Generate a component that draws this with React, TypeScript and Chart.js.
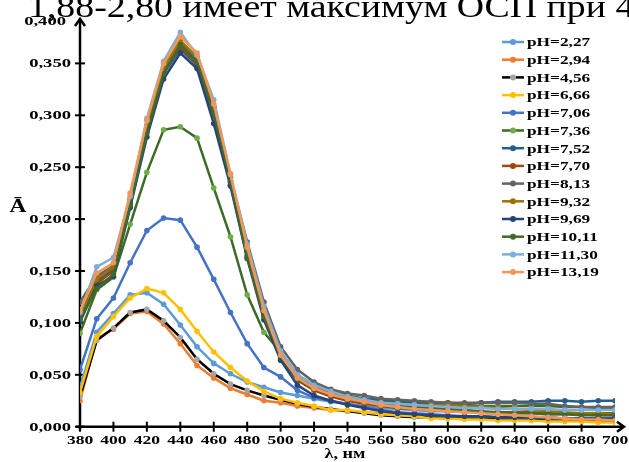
import React, { useEffect, useRef } from "react";
import { Chart, registerables } from "chart.js";

Chart.register(...registerables);

const wavelengths = [380, 390, 400, 410, 420, 430, 440, 450, 460, 470, 480, 490, 500, 510, 520, 530, 540, 550, 560, 570, 580, 590, 600, 610, 620, 630, 640, 650, 660, 670, 680, 690, 700];

const seriesLabels = ["pH=2,27", "pH=2,94", "pH=4,56", "pH=6,66", "pH=7,06", "pH=7,36", "pH=7,52", "pH=7,70", "pH=8,13", "pH=9,32", "pH=9,69", "pH=10,11", "pH=11,30", "pH=13,19"];

const pH227 = [0.038, 0.091, 0.109, 0.127, 0.129, 0.118, 0.098, 0.077, 0.061, 0.051, 0.043, 0.038, 0.033, 0.030, 0.027, 0.024, 0.022, 0.020, 0.018, 0.017, 0.016, 0.015, 0.015, 0.014, 0.014, 0.013, 0.013, 0.013, 0.012, 0.012, 0.012, 0.011, 0.011];
const pH294 = [0.025, 0.085, 0.094, 0.109, 0.111, 0.099, 0.080, 0.059, 0.047, 0.037, 0.031, 0.025, 0.023, 0.020, 0.018, 0.016, 0.015, 0.014, 0.013, 0.012, 0.011, 0.010, 0.010, 0.009, 0.009, 0.008, 0.008, 0.008, 0.007, 0.007, 0.007, 0.006, 0.006];
const pH456 = [0.029, 0.083, 0.095, 0.110, 0.113, 0.102, 0.086, 0.065, 0.051, 0.041, 0.035, 0.030, 0.026, 0.022, 0.019, 0.017, 0.015, 0.013, 0.011, 0.010, 0.009, 0.009, 0.008, 0.008, 0.008, 0.007, 0.007, 0.007, 0.007, 0.007, 0.006, 0.006, 0.006];
const pH666 = [0.033, 0.087, 0.106, 0.124, 0.133, 0.129, 0.113, 0.092, 0.072, 0.057, 0.044, 0.034, 0.027, 0.023, 0.020, 0.016, 0.016, 0.014, 0.012, 0.011, 0.010, 0.008, 0.008, 0.007, 0.007, 0.006, 0.006, 0.006, 0.005, 0.005, 0.005, 0.004, 0.004];
const pH706 = [0.055, 0.104, 0.124, 0.158, 0.189, 0.201, 0.199, 0.173, 0.142, 0.110, 0.080, 0.057, 0.048, 0.035, 0.028, 0.025, 0.022, 0.019, 0.016, 0.014, 0.013, 0.012, 0.011, 0.010, 0.010, 0.009, 0.009, 0.009, 0.008, 0.008, 0.008, 0.008, 0.008];
const pH736 = [0.090, 0.132, 0.144, 0.195, 0.245, 0.286, 0.289, 0.278, 0.230, 0.183, 0.127, 0.091, 0.072, 0.050, 0.040, 0.034, 0.030, 0.027, 0.025, 0.024, 0.023, 0.022, 0.021, 0.021, 0.020, 0.020, 0.020, 0.020, 0.020, 0.019, 0.019, 0.018, 0.018];
const pH752 = [0.108, 0.140, 0.152, 0.214, 0.286, 0.340, 0.364, 0.348, 0.300, 0.233, 0.165, 0.108, 0.066, 0.045, 0.036, 0.031, 0.028, 0.027, 0.026, 0.025, 0.024, 0.023, 0.023, 0.022, 0.023, 0.024, 0.024, 0.024, 0.025, 0.025, 0.024, 0.025, 0.025];
const pH770 = [0.107, 0.138, 0.150, 0.216, 0.287, 0.342, 0.366, 0.350, 0.303, 0.236, 0.168, 0.110, 0.068, 0.045, 0.035, 0.029, 0.025, 0.022, 0.020, 0.018, 0.017, 0.016, 0.015, 0.015, 0.014, 0.014, 0.014, 0.014, 0.013, 0.013, 0.013, 0.013, 0.013];
const pH813 = [0.120, 0.145, 0.155, 0.218, 0.290, 0.345, 0.370, 0.355, 0.308, 0.240, 0.178, 0.120, 0.077, 0.055, 0.043, 0.036, 0.032, 0.030, 0.027, 0.026, 0.025, 0.024, 0.023, 0.023, 0.023, 0.023, 0.023, 0.022, 0.022, 0.020, 0.019, 0.019, 0.019];
const pH932 = [0.106, 0.142, 0.154, 0.219, 0.290, 0.346, 0.372, 0.356, 0.308, 0.240, 0.170, 0.112, 0.070, 0.048, 0.038, 0.032, 0.028, 0.025, 0.023, 0.022, 0.021, 0.021, 0.021, 0.020, 0.019, 0.018, 0.017, 0.016, 0.015, 0.014, 0.013, 0.013, 0.012];
const pH969 = [0.101, 0.136, 0.145, 0.211, 0.279, 0.335, 0.360, 0.345, 0.292, 0.232, 0.162, 0.103, 0.064, 0.040, 0.030, 0.025, 0.021, 0.018, 0.015, 0.013, 0.012, 0.011, 0.010, 0.010, 0.010, 0.009, 0.009, 0.009, 0.009, 0.008, 0.008, 0.008, 0.008];
const pH1011 = [0.104, 0.133, 0.147, 0.213, 0.283, 0.340, 0.368, 0.352, 0.302, 0.236, 0.163, 0.106, 0.068, 0.046, 0.037, 0.031, 0.027, 0.024, 0.022, 0.020, 0.019, 0.018, 0.017, 0.016, 0.015, 0.014, 0.013, 0.013, 0.012, 0.012, 0.011, 0.011, 0.011];
const pH1130 = [0.110, 0.154, 0.163, 0.222, 0.297, 0.352, 0.380, 0.358, 0.315, 0.243, 0.176, 0.116, 0.073, 0.050, 0.040, 0.034, 0.029, 0.026, 0.023, 0.022, 0.021, 0.020, 0.019, 0.018, 0.018, 0.017, 0.017, 0.017, 0.017, 0.016, 0.016, 0.016, 0.016];
const pH1319 = [0.112, 0.148, 0.158, 0.225, 0.295, 0.350, 0.376, 0.360, 0.311, 0.244, 0.173, 0.112, 0.069, 0.047, 0.037, 0.031, 0.027, 0.024, 0.021, 0.019, 0.017, 0.016, 0.015, 0.014, 0.013, 0.012, 0.011, 0.010, 0.009, 0.008, 0.007, 0.007, 0.006];

const seriesValues = [pH227, pH294, pH456, pH666, pH706, pH736, pH752, pH770, pH813, pH932, pH969, pH1011, pH1130, pH1319];

const lineColors = ["#5B9BD5", "#ED7D31", "#000000", "#FFC000", "#4472C4", "#3E6B27", "#255E91", "#9E480E", "#636363", "#997300", "#264478", "#43682B", "#7CAFDD", "#F1975A"];
const markerColors = ["#5B9BD5", "#ED7D31", "#A5A5A5", "#FFC000", "#4472C4", "#70AD47", "#255E91", "#9E480E", "#636363", "#997300", "#264478", "#43682B", "#7CAFDD", "#F1975A"];

const yTickValues = [0, 0.05, 0.1, 0.15, 0.2, 0.25, 0.3, 0.35, 0.4];
const xTickValues = [380, 400, 420, 440, 460, 480, 500, 520, 540, 560, 580, 600, 620, 640, 660, 680, 700];

const headerText = "1,88-2,80 имеет максимум ОСП при 440";
const yTitle = "Ā";
const xTitle = "λ, нм";

const SERIF = '"Liberation Serif", "Times New Roman", serif';

function stretchText(ctx: any, text: string, x: number, y: number, align: string, font: string, sx: number) {
  ctx.save();
  ctx.font = font;
  ctx.textAlign = "left";
  const w = ctx.measureText(text).width * sx;
  const left = align === "right" ? x - w : align === "center" ? x - w / 2 : x;
  ctx.translate(left, y);
  ctx.scale(sx, 1);
  ctx.fillText(text, 0, 0);
  ctx.restore();
}

const decorPlugin = {
  id: "decor",
  beforeDatasetsDraw(chart: any) {
    const { ctx, chartArea, scales } = chart;
    const xs = scales.x;
    const ys = scales.y;
    const x0 = chartArea.left;
    const y0 = chartArea.bottom;
    ctx.save();
    ctx.strokeStyle = "#000";
    ctx.lineWidth = 2.5;
    ctx.lineCap = "butt";
    ctx.beginPath();
    ctx.moveTo(x0, y0 + 4);
    ctx.lineTo(x0, 19);
    ctx.stroke();
    ctx.beginPath();
    ctx.moveTo(x0 - 5, 26);
    ctx.lineTo(x0, 19);
    ctx.lineTo(x0 + 5, 26);
    ctx.stroke();
    ctx.beginPath();
    ctx.moveTo(x0 - 4, y0);
    ctx.lineTo(624, y0);
    ctx.stroke();
    ctx.beginPath();
    ctx.moveTo(617, y0 - 5);
    ctx.lineTo(624, y0);
    ctx.lineTo(617, y0 + 5);
    ctx.stroke();
    ctx.lineWidth = 2;
    yTickValues.forEach((v) => {
      if (v >= 0.4) return;
      const py = ys.getPixelForValue(v);
      ctx.beginPath();
      ctx.moveTo(x0 - 5, py);
      ctx.lineTo(x0 + 5, py);
      ctx.stroke();
    });
    xTickValues.forEach((v) => {
      if (v >= 700) return;
      const px = xs.getPixelForValue(v);
      ctx.beginPath();
      ctx.moveTo(px, y0 - 5);
      ctx.lineTo(px, y0 + 5);
      ctx.stroke();
    });
    ctx.restore();
  },
  afterDraw(chart: any) {
    const { ctx, scales } = chart;
    const xs = scales.x;
    const ys = scales.y;
    ctx.save();
    ctx.fillStyle = "#000";
    ctx.textBaseline = "alphabetic";
    stretchText(ctx, headerText, 28, 17, "left", `31px ${SERIF}`, 1.22);
    ctx.textBaseline = "middle";
    ys.ticks.forEach((t: any) => {
      const py = ys.getPixelForValue(t.value);
      const lab = Number(t.value).toFixed(3).replace(".", ",");
      stretchText(ctx, lab, t.value >= 0.4 ? 66 : 71, t.value >= 0.4 ? 22 : py + 1, "right", `bold 12px ${SERIF}`, 1.55);
    });
    xs.ticks.forEach((t: any) => {
      const px = xs.getPixelForValue(t.value);
      stretchText(ctx, String(t.value), px, 441, "center", `bold 12.5px ${SERIF}`, 1.4);
    });
    stretchText(ctx, yTitle, 18, 207, "center", `bold 18px ${SERIF}`, 1.3);
    stretchText(ctx, xTitle, 345, 454, "center", `bold 14px ${SERIF}`, 1.3);
    const lx = 502;
    const ly = 42;
    const step = 17.7;
    seriesLabels.forEach((lab, i) => {
      const y = ly + i * step;
      ctx.strokeStyle = lineColors[i];
      ctx.lineWidth = 2.5;
      ctx.beginPath();
      ctx.moveTo(lx, y);
      ctx.lineTo(lx + 22, y);
      ctx.stroke();
      ctx.fillStyle = markerColors[i];
      ctx.beginPath();
      ctx.arc(lx + 11, y, 3, 0, Math.PI * 2);
      ctx.fill();
      ctx.fillStyle = "#000";
      stretchText(ctx, lab, lx + 25, y + 1, "left", `bold 13px ${SERIF}`, 1.33);
    });
    ctx.restore();
  },
};

export default function App() {
  const ref = useRef<HTMLCanvasElement | null>(null);
  useEffect(() => {
    document.body.style.margin = "0";
    if (!ref.current) return;
    const n = seriesValues.length;
    const datasets = seriesValues.map((vals, i) => ({
      label: seriesLabels[i],
      data: wavelengths.map((w, j) => ({ x: w, y: vals[j] })),
      borderColor: lineColors[i],
      backgroundColor: markerColors[i],
      pointBackgroundColor: markerColors[i],
      pointBorderColor: markerColors[i],
      pointRadius: 2.8,
      pointBorderWidth: 0,
      borderWidth: 2.5,
      tension: 0,
      order: n - i,
    }));
    const chart = new Chart(ref.current, {
      type: "line",
      data: { datasets },
      plugins: [decorPlugin],
      options: {
        animation: false,
        responsive: false,
        layout: { padding: { top: 11.5, right: 14, left: 0, bottom: 0 } },
        plugins: { legend: { display: false }, tooltip: { enabled: false } },
        scales: {
          x: {
            type: "linear",
            min: 380,
            max: 700,
            afterBuildTicks: (s: any) => {
              s.ticks = xTickValues.map((v) => ({ value: v }));
            },
            afterFit: (s: any) => {
              s.height = 35.3;
            },
            grid: { display: false },
            border: { display: false },
            ticks: { display: false, autoSkip: false },
          },
          y: {
            type: "linear",
            min: 0,
            max: 0.4,
            afterBuildTicks: (s: any) => {
              s.ticks = yTickValues.map((v) => ({ value: v }));
            },
            afterFit: (s: any) => {
              s.width = 80;
            },
            grid: { display: false },
            border: { display: false },
            ticks: { display: false, autoSkip: false },
          },
        },
      },
    });
    return () => chart.destroy();
  }, []);
  return (
    <div style={{ position: "absolute", left: 0, top: 0, width: 629, height: 462, background: "#fff" }}>
      <canvas ref={ref} width={629} height={462} style={{ width: 629, height: 462, display: "block" }} />
    </div>
  );
}
